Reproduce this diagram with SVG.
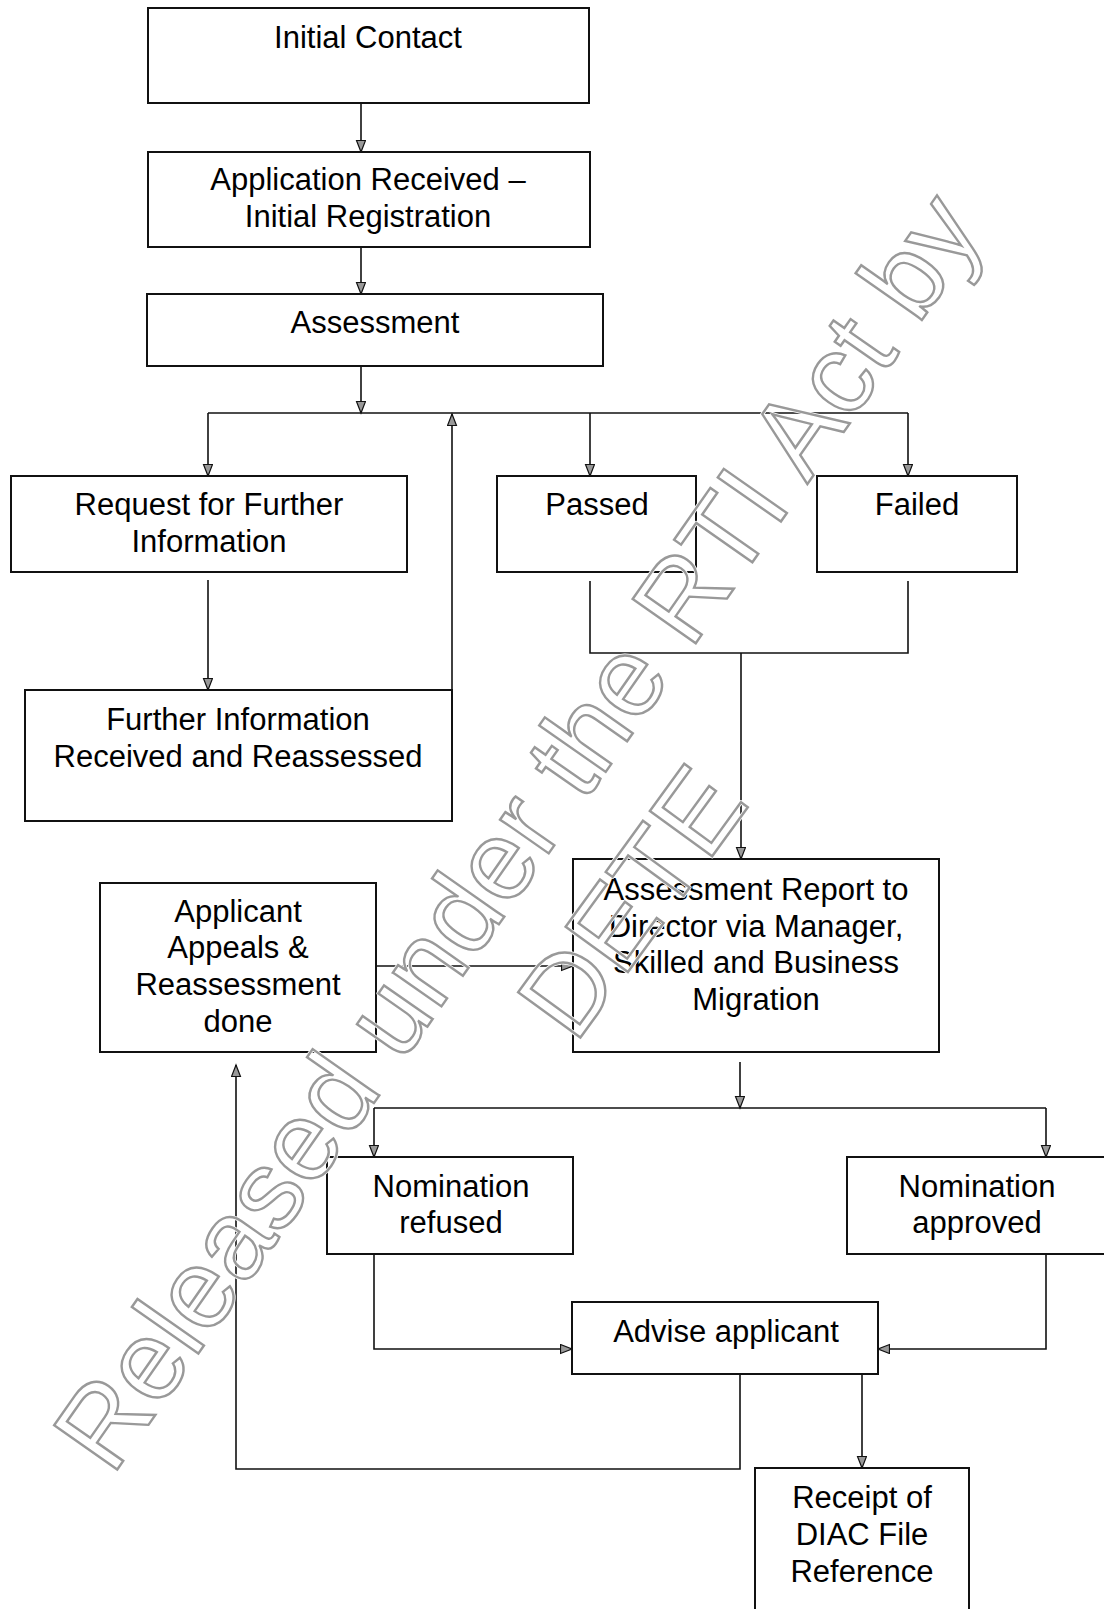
<svg xmlns="http://www.w3.org/2000/svg" width="1104" height="1609" viewBox="0 0 1104 1609">
<style>
.box{fill:#fff;stroke:#111;stroke-width:2}
.t{font-family:"Liberation Sans",Arial,sans-serif;font-size:31px;fill:#000;text-anchor:middle}
.c{fill:none;stroke:#111;stroke-width:1.6}
.wmh{font-family:"Liberation Sans",Arial,sans-serif;font-size:112px;fill:none;stroke:#fff;stroke-width:4;stroke-linejoin:round}
.wm{font-family:"Liberation Sans",Arial,sans-serif;font-size:112px;fill:none;stroke:#999;stroke-width:2.4;stroke-linejoin:miter}
</style>
<defs>
<marker id="ah" markerUnits="userSpaceOnUse" markerWidth="14" markerHeight="12" refX="12" refY="5" orient="auto">
<path d="M0.5,0.5 L12,5 L0.5,9.5 z" fill="#999" stroke="#111" stroke-width="1.2"/>
</marker>
</defs>
<rect width="1104" height="1609" fill="#fff"/>

<g id="connectors">
<line class="c" x1="361" y1="103" x2="361" y2="152" marker-end="url(#ah)"/>
<line class="c" x1="361" y1="247" x2="361" y2="294" marker-end="url(#ah)"/>
<line class="c" x1="361" y1="366" x2="361" y2="413" marker-end="url(#ah)"/>
<line class="c" x1="208" y1="413" x2="908" y2="413"/>
<line class="c" x1="208" y1="413" x2="208" y2="476" marker-end="url(#ah)"/>
<line class="c" x1="590" y1="413" x2="590" y2="476" marker-end="url(#ah)"/>
<line class="c" x1="908" y1="413" x2="908" y2="476" marker-end="url(#ah)"/>
<line class="c" x1="208" y1="580" x2="208" y2="690" marker-end="url(#ah)"/>
<line class="c" x1="452" y1="690" x2="452" y2="414" marker-end="url(#ah)"/>
<path class="c" d="M590,581 V653 H908 V581"/>
<line class="c" x1="741" y1="653" x2="741" y2="859" marker-end="url(#ah)"/>
<line class="c" x1="376" y1="966" x2="573" y2="966" marker-end="url(#ah)"/>
<line class="c" x1="740" y1="1062" x2="740" y2="1108" marker-end="url(#ah)"/>
<line class="c" x1="374" y1="1108" x2="1046" y2="1108"/>
<line class="c" x1="374" y1="1108" x2="374" y2="1157" marker-end="url(#ah)"/>
<line class="c" x1="1046" y1="1108" x2="1046" y2="1157" marker-end="url(#ah)"/>
<path class="c" d="M374,1254 V1349 H572" marker-end="url(#ah)"/>
<path class="c" d="M1046,1254 V1349 H878" marker-end="url(#ah)"/>
<line class="c" x1="862" y1="1374" x2="862" y2="1468" marker-end="url(#ah)"/>
<path class="c" d="M740,1374 V1469 H236 V1065" marker-end="url(#ah)"/>
</g>

<g id="n-initial-contact">
<rect class="box" x="148" y="8" width="441" height="95"/>
<text class="t" x="368" y="48">Initial Contact</text>
</g>
<g id="n-application-received">
<rect class="box" x="148" y="152" width="442" height="95"/>
<text class="t" x="368" y="190">Application Received –</text>
<text class="t" x="368" y="227">Initial Registration</text>
</g>
<g id="n-assessment">
<rect class="box" x="147" y="294" width="456" height="72"/>
<text class="t" x="375" y="333">Assessment</text>
</g>
<g id="n-request">
<rect class="box" x="11" y="476" width="396" height="96"/>
<text class="t" x="209" y="515">Request for Further</text>
<text class="t" x="209" y="552">Information</text>
</g>
<g id="n-passed">
<rect class="box" x="497" y="476" width="199" height="96"/>
<text class="t" x="597" y="515">Passed</text>
</g>
<g id="n-failed">
<rect class="box" x="817" y="476" width="200" height="96"/>
<text class="t" x="917" y="515">Failed</text>
</g>
<g id="n-further-info">
<rect class="box" x="25" y="690" width="427" height="131"/>
<text class="t" x="238" y="730">Further Information</text>
<text class="t" x="238" y="767">Received and Reassessed</text>
</g>
<g id="n-report">
<rect class="box" x="573" y="859" width="366" height="193"/>
<text class="t" x="756" y="900">Assessment Report to</text>
<text class="t" x="756" y="937">Director via Manager,</text>
<text class="t" x="756" y="973">Skilled and Business</text>
<text class="t" x="756" y="1010">Migration</text>
</g>
<g id="n-appeals">
<rect class="box" x="100" y="883" width="276" height="169"/>
<text class="t" x="238" y="922">Applicant</text>
<text class="t" x="238" y="958">Appeals &amp;</text>
<text class="t" x="238" y="995">Reassessment</text>
<text class="t" x="238" y="1032">done</text>
</g>
<g id="n-refused">
<rect class="box" x="327" y="1157" width="246" height="97"/>
<text class="t" x="451" y="1197">Nomination</text>
<text class="t" x="451" y="1233">refused</text>
</g>
<g id="n-approved">
<rect class="box" x="847" y="1157" width="270" height="97"/>
<text class="t" x="977" y="1197">Nomination</text>
<text class="t" x="977" y="1233">approved</text>
</g>
<g id="n-advise">
<rect class="box" x="572" y="1302" width="306" height="72"/>
<text class="t" x="726" y="1342">Advise applicant</text>
</g>
<g id="n-receipt">
<rect class="box" x="755" y="1468" width="214" height="150"/>
<text class="t" x="862" y="1508">Receipt of</text>
<text class="t" x="862" y="1545">DIAC File</text>
<text class="t" x="862" y="1582">Reference</text>
</g>

<g id="watermark">
<text class="wmh" transform="translate(112,1477) rotate(-55)">Released under the RTI Act by</text>
<text class="wmh" transform="translate(575,1045) rotate(-54)">DETE</text>
<text class="wm" transform="translate(112,1477) rotate(-55)">Released under the RTI Act by</text>
<text class="wm" transform="translate(575,1045) rotate(-54)">DETE</text>
</g>
</svg>
